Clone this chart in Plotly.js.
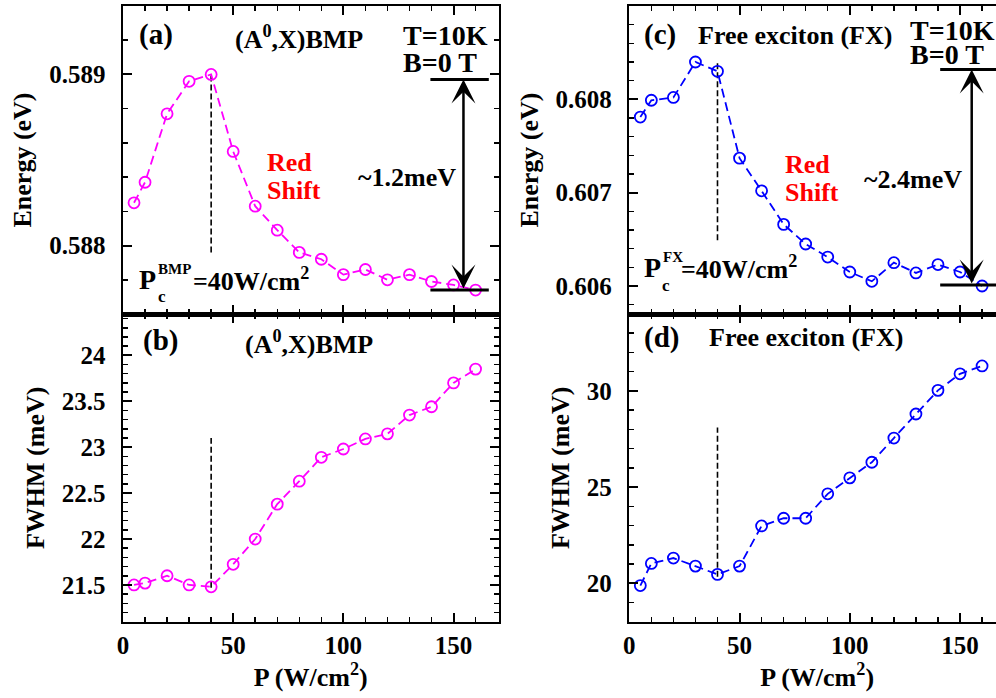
<!DOCTYPE html>
<html>
<head>
<meta charset="utf-8">
<script src="https://cdn.plot.ly/plotly-3.0.1.min.js"></script>
<style>
html,body{margin:0;padding:0;overflow:hidden;background:#fff;}
#chart{width:1010px;height:698px;}
</style>
</head>
<body>
<div id="chart"></div>
<script>
// ---------------- data ----------------
const P = [5,10,20,30,40,50,60,70,80,90,100,110,120,130,140,150,160];
const E_BMP = [0.58825,0.58837,0.58877,0.58896,0.58900,0.58855,0.58823,0.58809,0.58796,0.58792,0.58783,0.58786,0.58780,0.58783,0.58779,0.58777,0.58774];
const FWHM_BMP = [21.50,21.52,21.60,21.50,21.48,21.725,22.00,22.38,22.63,22.89,22.98,23.09,23.145,23.35,23.44,23.70,23.85];
const E_FX = [0.60781,0.60799,0.60802,0.60840,0.60830,0.60737,0.60702,0.60666,0.60645,0.60631,0.60615,0.60605,0.60625,0.60614,0.60623,0.60615,0.60600];
const FWHM_FX = [19.88,21.03,21.31,20.89,20.46,20.89,22.98,23.38,23.38,24.65,25.48,26.29,27.55,28.80,30.03,30.89,31.30];

const Pc = [40, 40];
const critA = [0.58796, 0.58900];
const critB = [21.47, 23.10];
const critC = [0.60649, 0.60842];
const critD = [20.34, 28.10];

// energy shift markers: [top, bottom] levels, bar x-extent, arrow x
const shiftA = [0.58897, 0.58774], barA = [139.5, 166], arrowXA = 154.5;
const shiftC = [0.60832, 0.60601], barC = [141, 171], arrowXC = 155.3;

// ---------------- layout helpers ----------------
const W = 1010, H = 698;
const FONT = 'Liberation Serif';
const px = v => v / W;
const py = v => 1 - v / H;

const colL = [px(123), px(498.5)];
const colR = [px(629.3), px(1005)];
const rowT = [py(314), py(6)];
const rowB = [py(621.7), py(314)];

function xaxis(domain, anchor, labels) {
  const ax = {
    domain: domain, anchor: anchor, range: [0, 170.4],
    tickmode: 'linear', tick0: 0, dtick: 50, showticklabels: labels,
    ticks: 'inside', ticklen: 9, tickwidth: 2, tickcolor: '#000',
    showline: true, linecolor: '#000', linewidth: 2.5, mirror: 'allticks',
    showgrid: false, zeroline: false,
    minor: {ticks: 'inside', dtick: 10, tick0: 0, ticklen: 5, tickwidth: 1.5, tickcolor: '#000', showgrid: false},
    tickfont: {family: FONT, size: 25, color: '#000', weight: 'bold'},
    ticklabelstandoff: 0
  };
  if (labels) ax.title = {text: 'P (W/cm<sup>2</sup>)', font: {family: FONT, size: 26, color: '#000', weight: 'bold'}, standoff: 4};
  return ax;
}
function yaxis(domain, anchor, range, dtick, tick0, minor, fmt, title) {
  return {
    domain: domain, anchor: anchor, range: range,
    tickmode: 'linear', dtick: dtick, tick0: tick0, tickformat: fmt,
    ticks: 'inside', ticklen: 9, tickwidth: 2, tickcolor: '#000',
    showline: true, linecolor: '#000', linewidth: 2.5, mirror: 'allticks',
    showgrid: false, zeroline: false,
    minor: {ticks: 'inside', dtick: minor, tick0: tick0, ticklen: 5, tickwidth: 1.5, tickcolor: '#000', showgrid: false},
    tickfont: {family: FONT, size: 25, color: '#000', weight: 'bold'},
    ticklabelstandoff: 10,
    title: {text: title, font: {family: FONT, size: 26, color: '#000', weight: 'bold'}, standoff: 10}
  };
}

function series(y, color, xa, ya) {
  return {
    x: P, y: y, xaxis: xa, yaxis: ya, type: 'scatter', mode: 'lines+markers',
    line: {color: color, width: 1.8, dash: '9px,5px'},
    marker: {symbol: 'circle-open', size: 11, color: color, line: {color: color, width: 1.8}},
    hoverinfo: 'skip', showlegend: false
  };
}
function crit(y, xa, ya) {
  return {
    x: Pc, y: y, xaxis: xa, yaxis: ya, type: 'scatter', mode: 'lines',
    line: {color: '#000', width: 1.6, dash: '6px,3px'}, hoverinfo: 'skip', showlegend: false
  };
}

const data = [
  crit(critA, 'x', 'y'), crit(critB, 'x2', 'y2'), crit(critC, 'x3', 'y3'), crit(critD, 'x4', 'y4'),
  series(E_BMP, '#ff00ff', 'x', 'y'),
  series(FWHM_BMP, '#ff00ff', 'x2', 'y2'),
  series(E_FX, '#0000ff', 'x3', 'y3'),
  series(FWHM_FX, '#0000ff', 'x4', 'y4')
];

function txt(text, x, y, size, xanchor, color) {
  return {text: text, x: px(x), y: py(y), xref: 'paper', yref: 'paper', showarrow: false,
    xanchor: xanchor || 'center', yanchor: 'middle',
    font: {family: FONT, size: size, color: color || '#000', weight: 'bold'}};
}
function dblArrow(xa, ya, x, levels) {
  return {x: x, y: levels[0], ax: x, ay: levels[1], xref: xa, yref: ya, axref: xa, ayref: ya,
    showarrow: true, arrowside: 'end+start', arrowhead: 3, startarrowhead: 3,
    arrowsize: 1.6, startarrowsize: 1.6, arrowwidth: 2.5, arrowcolor: '#000', text: '', standoff: 0, startstandoff: 0};
}

const annotations = [
  // (a)
  txt('(a)', 156, 34, 29),
  txt('(A<sup>0</sup>,X)BMP', 298.5, 37, 26),
  txt('T=10K', 401, 35, 28, 'left'),
  txt('B=0 T', 401, 62, 28, 'left'),
  txt('Red', 265, 163, 26, 'left', '#ff0000'),
  txt('Shift', 265, 190, 26, 'left', '#ff0000'),
  txt('~1.2meV', 407, 177, 26),
  txt('P', 137, 279, 28, 'left'),
  txt('BMP', 156, 269, 15, 'left'),
  txt('c', 156, 296, 17, 'left'),
  txt('=40W/cm<sup>2</sup>', 191, 279, 26, 'left'),
  // (b)
  txt('(b)', 160, 340, 29),
  txt('(A<sup>0</sup>,X)BMP', 308.5, 342, 26),
  // (c)
  txt('(c)', 660, 34, 29),
  txt('Free exciton (FX)', 794.5, 35, 26),
  txt('T=10K', 908, 30, 28, 'left'),
  txt('B=0 T', 908, 55, 28, 'left'),
  txt('Red', 783, 165, 26, 'left', '#ff0000'),
  txt('Shift', 783, 192, 26, 'left', '#ff0000'),
  txt('~2.4meV', 913, 180, 26),
  txt('P', 642, 267, 28, 'left'),
  txt('FX', 661, 257, 15, 'left'),
  txt('c', 660, 285, 17, 'left'),
  txt('=40W/cm<sup>2</sup>', 679, 267, 26, 'left'),
  // (d)
  txt('(d)', 661, 337, 29),
  txt('Free exciton (FX)', 806, 337, 26),
  // arrows
  dblArrow('x', 'y', arrowXA, shiftA),
  dblArrow('x3', 'y3', arrowXC, shiftC)
];

const shapes = [
  {type: 'line', xref: 'x', yref: 'y', x0: barA[0], x1: barA[1], y0: shiftA[0], y1: shiftA[0], line: {color: '#000', width: 3}},
  {type: 'line', xref: 'x', yref: 'y', x0: barA[0], x1: barA[1], y0: shiftA[1], y1: shiftA[1], line: {color: '#000', width: 3}},
  {type: 'line', xref: 'x3', yref: 'y3', x0: barC[0], x1: barC[1], y0: shiftC[0], y1: shiftC[0], line: {color: '#000', width: 3}},
  {type: 'line', xref: 'x3', yref: 'y3', x0: barC[0], x1: barC[1], y0: shiftC[1], y1: shiftC[1], line: {color: '#000', width: 3}}
];

const layout = {
  width: W, height: H,
  margin: {l: 0, r: 0, t: 0, b: 0},
  paper_bgcolor: '#fff', plot_bgcolor: 'rgba(0,0,0,0)',
  font: {family: FONT, size: 26, color: '#000', weight: 'bold'},
  showlegend: false,
  xaxis: xaxis(colL, 'y', false),
  yaxis: yaxis(rowT, 'x', [0.5876, 0.5894], 0.001, 0.588, 0.0002, '.3f', 'Energy (eV)'),
  xaxis2: xaxis(colL, 'y2', true),
  yaxis2: yaxis(rowB, 'x2', [21.1, 24.45], 0.5, 0, 0.1, '', 'FWHM (meV)'),
  xaxis3: xaxis(colR, 'y3', false),
  yaxis3: yaxis(rowT, 'x3', [0.6057, 0.6090], 0.001, 0.606, 0.0002, '.3f', 'Energy (eV)'),
  xaxis4: xaxis(colR, 'y4', true),
  yaxis4: yaxis(rowB, 'x4', [18, 34], 5, 0, 1, '', 'FWHM (meV)'),
  annotations: annotations,
  shapes: shapes
};

Plotly.newPlot('chart', data, layout, {displayModeBar: false, staticPlot: true});
</script>
</body>
</html>
